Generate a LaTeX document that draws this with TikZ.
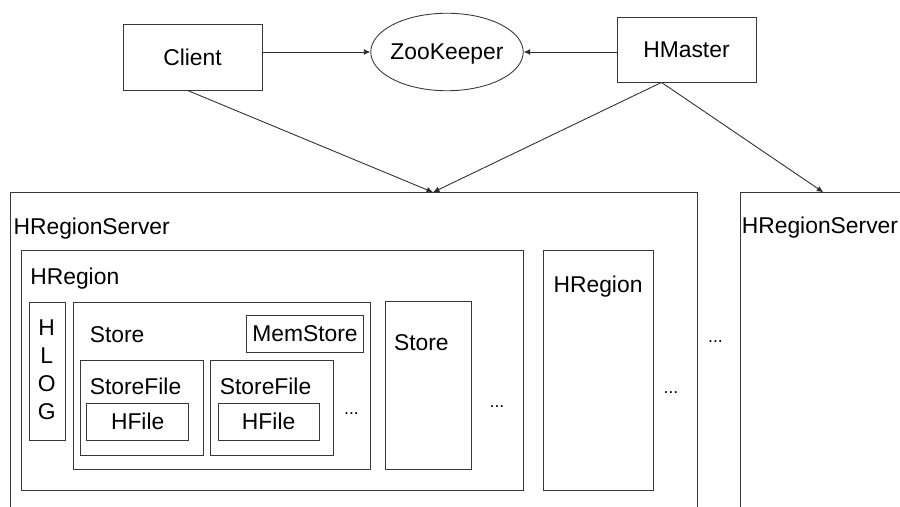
\documentclass[tikz,border=0pt]{standalone}
\usepackage{fontspec}
\setmainfont{Liberation Sans}
\usetikzlibrary{arrows.meta,shapes,calc,positioning}

\begin{document}
\begin{tikzpicture}[
		frame/.style={draw=black!78, line width=0.5pt},
		txt/.style={font=\fontsize{13}{15.9}\selectfont, inner sep=0pt},
		dots/.style={font=\fontsize{10}{12}\selectfont, inner sep=0pt, anchor=base},
		link/.style={draw=black!82, line width=0.5pt, -{Latex[length=1.3mm,width=1.2mm]}},
	]
		\clip (0,0) rectangle (18,10.14);
		% clients, coordination and master
		\node [frame, txt, minimum width=2.78cm, minimum height=1.32cm] (client) at (3.85,9.0) {Client};
		\node [frame, ellipse, minimum width=3.05cm, minimum height=1.55cm] (zk) at (8.94,9.10) {};
		\node [txt, text depth=0pt] (zktext) at (zk) {ZooKeeper};
		\node [frame, txt, minimum width=2.78cm, minimum height=1.30cm] (hmaster) at (13.73,9.15) {HMaster};
		\draw [link] (client.east |- zk.west) -- (zk.west);
		\draw [link] (hmaster.west |- zk.east) -- (zk.east);
		\coordinate (rs1top) at (8.66,6.294);
		\coordinate (rs2top) at (16.466,6.294);
		\draw [link] ([xshift=-0.1cm]client.south) -- (rs1top);
		\draw [link] ([xshift=-0.5cm]hmaster.south) -- (rs1top);
		\draw [link] ([xshift=-0.5cm]hmaster.south) -- (rs2top);
		% region servers
		\draw [frame] (0.2,6.294) rectangle (13.954,-0.5);
		\draw [frame] (14.814,6.294) rectangle (18.5,-0.5);
		\node [txt, anchor=base west] (rs1) at (0.265,5.44) {HRegionServer};
		\node [txt, anchor=base west] (rs2) at (14.83,5.46) {HRegionServer};
		% regions
		\draw [frame] (0.434,5.14) rectangle (10.466,0.326);
		\draw [frame] (10.866,5.14) rectangle (13.066,0.326);
		\node [txt, anchor=base west] (reg1) at (0.60,4.44) {HRegion};
		\node [txt, anchor=base west] (reg2) at (11.065,4.287) {HRegion};
		% write-ahead log
		\draw [frame] (0.58,4.10) rectangle (1.314,1.34);
		\node [txt, align=center] (hlog) at (0.934,2.74) {H\\L\\O\\G};
		% stores
		\draw [frame] (1.466,4.10) rectangle (7.414,0.754);
		\draw [frame] (7.70,4.106) rectangle (9.434,0.754);
		\node [txt, anchor=base west] (store1) at (1.79,3.286) {Store};
		\node [txt, anchor=base west] (store2) at (7.875,3.126) {Store};
		\node [frame, txt, minimum width=2.332cm, minimum height=0.754cm] (mem) at (6.10,3.463) {MemStore};
		% store files
		\draw [frame] (1.614,2.94) rectangle (4.066,1.04);
		\draw [frame] (4.214,2.94) rectangle (6.666,1.04);
		\node [txt, anchor=base west] (sf1) at (1.79,2.24) {StoreFile};
		\node [txt, anchor=base west] (sf2) at (4.39,2.24) {StoreFile};
		\node [frame, txt, minimum width=2.04cm, minimum height=0.734cm] (hf1) at (2.754,1.707) {HFile};
		\node [frame, txt, minimum width=2.014cm, minimum height=0.734cm] (hf2) at (5.373,1.707) {HFile};
		% more of the same
		\node [dots] (more1) at (7.03,1.84) {...};
		\node [dots] (more2) at (9.94,1.98) {...};
		\node [dots] (more3) at (13.42,2.26) {...};
		\node [dots] (more4) at (14.31,3.28) {...};
	\end{tikzpicture}
\end{document}
